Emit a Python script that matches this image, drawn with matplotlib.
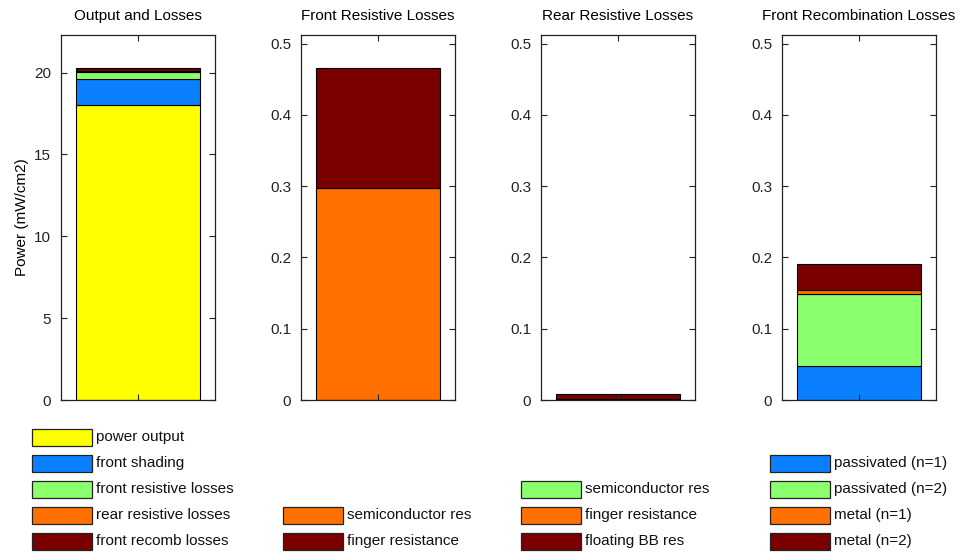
from __future__ import annotations

import matplotlib

matplotlib.use("Agg")

import matplotlib.pyplot as plt
from matplotlib.patches import Rectangle

plt.rcParams["font.family"] = ["Liberation Sans", "DejaVu Sans"]

FIG_W, FIG_H = 958, 556
DPI = 100

# stacked components per panel, bottom of the stack first
OUTPUT_LABELS = ["power output", "front shading", "front resistive losses",
                 "rear resistive losses", "front recomb losses"]
OUTPUT_VALUES = [18.0, 1.6, 0.466, 0.008, 0.19]

FRONT_RES_LABELS = ["semiconductor res", "finger resistance"]
FRONT_RES_VALUES = [0.297, 0.169]

REAR_RES_LABELS = ["semiconductor res", "finger resistance", "floating BB res"]
REAR_RES_VALUES = [0.0003, 0.0012, 0.007]

RECOMB_LABELS = ["passivated (n=1)", "passivated (n=2)", "metal (n=1)", "metal (n=2)"]
RECOMB_VALUES = [0.047, 0.102, 0.006, 0.036]

TITLES = ["Output and Losses", "Front Resistive Losses",
          "Rear Resistive Losses", "Front Recombination Losses"]

YELLOW = "#FFFF00"
BLUE = "#0A80FF"
GREEN = "#8CFF6E"
ORANGE = "#FF7000"
DARK_RED = "#7A0000"

PANELS = [
    (OUTPUT_LABELS, OUTPUT_VALUES, [YELLOW, BLUE, GREEN, ORANGE, DARK_RED], 22.3, [0, 5, 10, 15, 20]),
    (FRONT_RES_LABELS, FRONT_RES_VALUES, [ORANGE, DARK_RED], 0.512, [0, 0.1, 0.2, 0.3, 0.4, 0.5]),
    (REAR_RES_LABELS, REAR_RES_VALUES, [GREEN, ORANGE, DARK_RED], 0.512, [0, 0.1, 0.2, 0.3, 0.4, 0.5]),
    (RECOMB_LABELS, RECOMB_VALUES, [BLUE, GREEN, ORANGE, DARK_RED], 0.512, [0, 0.1, 0.2, 0.3, 0.4, 0.5]),
]

AXES_LEFT_PX = [61, 301, 541, 782]
AXES_WIDTH_PX = 154
AXES_TOP_PX, AXES_BOTTOM_PX = 35, 400
LEGEND_PATCH_X_PX = [32, 283, 521, 770]
FONT_SIZE = 11


def fx(px: float) -> float:
    return px / FIG_W


def fy(px: float) -> float:
    return 1 - px / FIG_H


def draw_stack(ax, values, colors, ymax, yticks) -> None:
    bottom = 0.0
    for value, color in zip(values, colors):
        ax.bar(1, value, width=0.8, bottom=bottom, color=color,
               edgecolor="black", linewidth=0.8)
        bottom += value
    ax.set_xlim(0.5, 1.5)
    ax.set_ylim(0, ymax)
    ax.set_xticks([1])
    ax.set_xticklabels([])
    ax.set_yticks(yticks)
    ax.set_yticklabels([f"{t:g}" for t in yticks])
    ax.tick_params(direction="in", length=4, width=0.8, top=True, right=True,
                   labelsize=FONT_SIZE, colors="#222222", pad=7)
    for spine in ax.spines.values():
        spine.set_linewidth(0.9)
        spine.set_color("#222222")


def draw_legend(fig, labels, colors, patch_x) -> None:
    # rows are stacked upwards from the bottom row, first entry on top
    row_step = 26
    bottom_row = 541
    n = len(labels)
    for i, (label, color) in enumerate(zip(labels, colors)):
        yc = bottom_row - (n - 1 - i) * row_step
        fig.add_artist(Rectangle((fx(patch_x), fy(yc + 8.5)), fx(60), 17 / FIG_H,
                                 transform=fig.transFigure, facecolor=color,
                                 edgecolor="#222222", linewidth=0.9))
        fig.text(fx(patch_x + 64), fy(yc), label, fontsize=FONT_SIZE,
                 va="center", ha="left", color="#111111")


def main() -> None:
    fig = plt.figure(figsize=(FIG_W / DPI, FIG_H / DPI), dpi=DPI)
    height = (AXES_BOTTOM_PX - AXES_TOP_PX) / FIG_H
    for i, (labels, values, colors, ymax, yticks) in enumerate(PANELS):
        ax = fig.add_axes([fx(AXES_LEFT_PX[i]), fy(AXES_BOTTOM_PX), fx(AXES_WIDTH_PX), height])
        draw_stack(ax, values, colors, ymax, yticks)
        ax.set_title(TITLES[i], fontsize=FONT_SIZE, pad=11)
        if i == 0:
            ax.set_ylabel("Power (mW/cm2)", fontsize=FONT_SIZE, labelpad=4)
        draw_legend(fig, labels, colors, LEGEND_PATCH_X_PX[i])
    fig.savefig("out.png", dpi=DPI)
    plt.close(fig)


if __name__ == "__main__":
    main()
